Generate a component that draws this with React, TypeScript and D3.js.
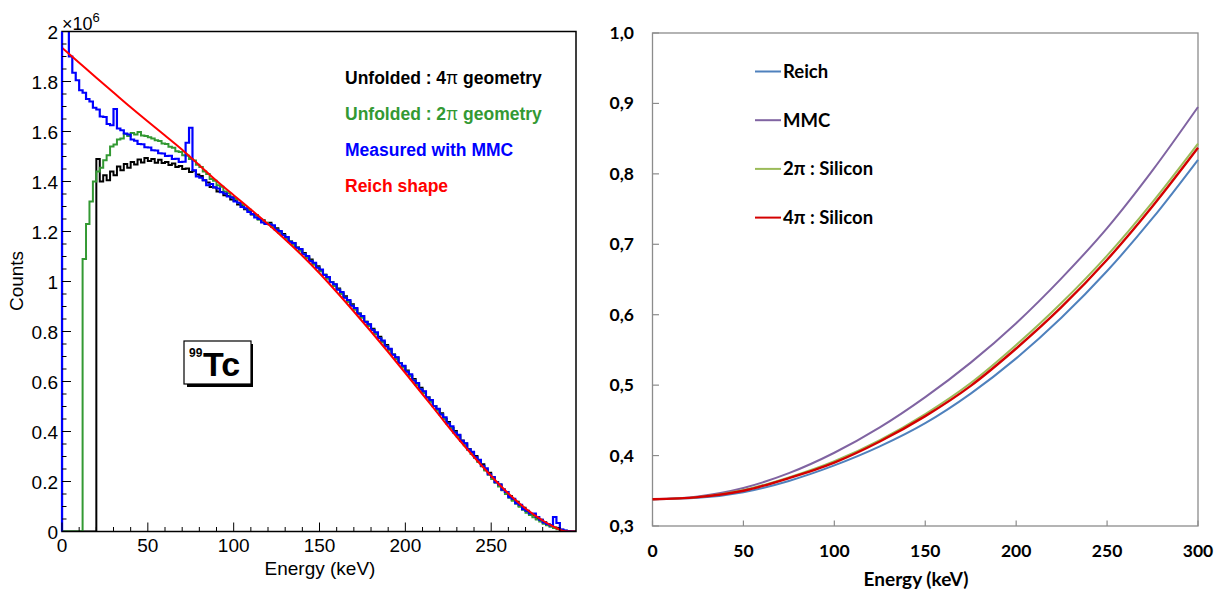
import React from "react";
import * as d3 from "d3";

// ---------- Left panel data (histograms, 2 keV bins from 0 keV) ----------
const BIN_WIDTH = 2;

const blackCounts = [
  0, 0, 0, 0, 0, 0, 0, 0, 0, 0,
  1.49, 1.40, 1.425, 1.405, 1.44, 1.425, 1.46, 1.445, 1.47, 1.455,
  1.478, 1.468, 1.488, 1.476, 1.494, 1.482, 1.49, 1.475, 1.487, 1.474,
  1.478, 1.466, 1.472, 1.458, 1.462, 1.45, 1.452, 1.438, 1.443, 1.428,
  1.422, 1.405, 1.396, 1.378, 1.376, 1.36, 1.358, 1.345, 1.342, 1.328,
  1.322, 1.308, 1.306, 1.289, 1.285, 1.268, 1.265, 1.249, 1.245, 1.232,
  1.235, 1.219, 1.213, 1.197, 1.19,
  1.177, 1.16, 1.153, 1.136, 1.129,
  1.114, 1.096, 1.088, 1.069, 1.061,
  1.046, 1.027, 1.017, 0.998, 0.988,
  0.972, 0.952, 0.941, 0.92, 0.909,
  0.892, 0.872, 0.861, 0.839, 0.828,
  0.811, 0.791, 0.779, 0.758, 0.746,
  0.729, 0.708, 0.696, 0.674, 0.662,
  0.644, 0.623, 0.61, 0.588, 0.575,
  0.559, 0.537, 0.525, 0.502, 0.49,
  0.473, 0.451, 0.438, 0.415, 0.402,
  0.385, 0.364, 0.352, 0.33, 0.318,
  0.302, 0.281, 0.269, 0.247, 0.235,
  0.217, 0.198, 0.188, 0.168, 0.158,
  0.142, 0.126, 0.119, 0.102, 0.095,
  0.082, 0.069, 0.065, 0.051, 0.047,
  0.037, 0.027, 0.025, 0.016, 0.014,
  0.007, 0.003, 0.001, 0, 0,
];

const greenCounts = [
  0, 0, 0, 0, 0, 0, 1.09, 1.23, 1.32, 1.40,
  1.44, 1.455, 1.485, 1.505, 1.54, 1.548, 1.568, 1.572, 1.59, 1.582,
  1.594, 1.588, 1.598, 1.584, 1.582, 1.577, 1.572, 1.565, 1.562, 1.552,
  1.55, 1.539, 1.535, 1.521, 1.518, 1.505, 1.503, 1.49, 1.484, 1.467,
  1.458, 1.44, 1.43, 1.41, 1.403, 1.385, 1.379, 1.36, 1.353, 1.338,
  1.33, 1.314, 1.308, 1.293, 1.287, 1.27, 1.265, 1.248, 1.244, 1.234,
  1.23, 1.218, 1.208, 1.196, 1.186,
  1.171, 1.16, 1.147, 1.136, 1.123,
  1.11, 1.095, 1.083, 1.068, 1.056,
  1.041, 1.027, 1.011, 0.998, 0.982,
  0.968, 0.951, 0.936, 0.919, 0.904,
  0.887, 0.872, 0.855, 0.839, 0.822,
  0.807, 0.79, 0.774, 0.757, 0.741,
  0.724, 0.708, 0.69, 0.674, 0.656,
  0.64, 0.622, 0.605, 0.587, 0.57,
  0.554, 0.537, 0.519, 0.502, 0.484,
  0.468, 0.45, 0.432, 0.414, 0.396,
  0.379, 0.362, 0.345, 0.327, 0.31,
  0.295, 0.278, 0.261, 0.244, 0.227,
  0.21, 0.195, 0.18, 0.165, 0.15,
  0.135, 0.123, 0.111, 0.099, 0.087,
  0.075, 0.066, 0.057, 0.048, 0.04,
  0.031, 0.025, 0.019, 0.014, 0.009,
  0.004, 0.002, 0.001, 0, 0,
];

const blueCounts = [
  2.5, 2.2, 1.9, 1.835, 1.805, 1.765, 1.755, 1.73, 1.72, 1.695,
  1.688, 1.66, 1.658, 1.63, 1.625, 1.69, 1.612, 1.605, 1.592, 1.588,
  1.568, 1.563, 1.55, 1.549, 1.537, 1.536, 1.525, 1.524, 1.513, 1.512,
  1.502, 1.503, 1.49, 1.491, 1.478, 1.479, 1.555, 1.615, 1.445, 1.42,
  1.415, 1.405, 1.385, 1.39, 1.377, 1.372, 1.357, 1.352, 1.34, 1.336,
  1.32, 1.315, 1.298, 1.293, 1.278, 1.27, 1.256, 1.25, 1.236, 1.23,
  1.229, 1.225, 1.207, 1.202, 1.185,
  1.178, 1.159, 1.154, 1.135, 1.13,
  1.109, 1.102, 1.082, 1.075, 1.055,
  1.048, 1.026, 1.018, 0.997, 0.989,
  0.967, 0.958, 0.935, 0.926, 0.903,
  0.894, 0.871, 0.862, 0.838, 0.829,
  0.806, 0.797, 0.773, 0.764, 0.74,
  0.731, 0.707, 0.697, 0.673, 0.663,
  0.639, 0.629, 0.604, 0.594, 0.569,
  0.561, 0.536, 0.526, 0.501, 0.491,
  0.468, 0.457, 0.432, 0.421, 0.396,
  0.387, 0.363, 0.353, 0.329, 0.319,
  0.297, 0.287, 0.263, 0.253, 0.229,
  0.218, 0.197, 0.188, 0.167, 0.158,
  0.137, 0.131, 0.113, 0.107, 0.089,
  0.083, 0.072, 0.072, 0.058, 0.047,
  0.036, 0.03, 0.024, 0.058, 0.034,
  0.008, 0.004, 0.001, 0, 0,
];

// Reich shape (smooth curve)
const reichEnergy = [0, 10, 20, 30, 40, 50, 60, 70, 80, 90, 100, 110, 120, 130, 140, 150, 160, 170, 180, 190, 200, 210, 220, 230, 240, 250, 260, 270, 280, 288, 293, 300];
const reichCounts = [1.935, 1.875, 1.815, 1.756, 1.697, 1.64, 1.584, 1.527, 1.465, 1.403, 1.345, 1.288, 1.23, 1.168, 1.103, 1.033, 0.958, 0.88, 0.8, 0.718, 0.634, 0.549, 0.463, 0.378, 0.298, 0.222, 0.152, 0.092, 0.044, 0.014, 0.001, 0];

const leftXTicks = [0, 50, 100, 150, 200, 250];
const leftYTicks = [0, 0.2, 0.4, 0.6, 0.8, 1, 1.2, 1.4, 1.6, 1.8, 2];
const leftLegendLabels = ["Unfolded : 4", "Unfolded : 2", "Measured with MMC", "Reich shape"];
const leftLegendSuffix = [" geometry", " geometry", "", ""];
const leftLegendPi = [true, true, false, false];
const leftLegendColors = ["#000000", "#339933", "#0000ff", "#ff0000"];

// ---------- Right panel data ----------
const rightEnergy = [0, 25, 50, 75, 100, 125, 150, 175, 200, 225, 250, 275, 300];
const rightReich = [0.338, 0.34, 0.348, 0.364, 0.386, 0.413, 0.446, 0.488, 0.538, 0.596, 0.662, 0.737, 0.82];
const rightMMC = [0.338, 0.342, 0.354, 0.375, 0.404, 0.44, 0.483, 0.532, 0.588, 0.652, 0.723, 0.805, 0.895];
const rightSi2pi = [0.338, 0.341, 0.351, 0.369, 0.392, 0.422, 0.459, 0.503, 0.557, 0.617, 0.684, 0.76, 0.843];
const rightSi4pi = [0.338, 0.341, 0.35, 0.368, 0.39, 0.42, 0.456, 0.499, 0.552, 0.611, 0.678, 0.754, 0.837];
const rightSeriesNames = ["Reich", "MMC", "2π : Silicon", "4π : Silicon"];
const rightSeriesColors = ["#4f81bd", "#8064a2", "#9bbb59", "#d40000"];
const rightXTicks = [0, 50, 100, 150, 200, 250, 300];
const rightYTicks = [0.3, 0.4, 0.5, 0.6, 0.7, 0.8, 0.9, 1.0];

function histPoints(vals: number[]): [number, number][] {
  const pts: [number, number][] = [[0, 0]];
  vals.forEach((v, i) => {
    pts.push([i * BIN_WIDTH, v]);
    pts.push([(i + 1) * BIN_WIDTH, v]);
  });
  pts.push([vals.length * BIN_WIDTH, 0]);
  return pts;
}

export default function App() {
  // Left scales
  const xL = d3.scaleLinear().domain([0, 299.4]).range([62, 576]);
  const yL = d3.scaleLinear().domain([0, 2]).range([531.5, 31.5]);
  const histLine = d3
    .line<[number, number]>()
    .x((d) => xL(d[0]))
    .y((d) => yL(d[1]));
  const reichLine = d3
    .line<number>()
    .x((_, i) => xL(reichEnergy[i]))
    .y((d) => yL(d))
    .curve(d3.curveMonotoneX);

  const xMinor = d3.range(0, 300, 10).filter((v) => v % 50 !== 0);
  const yMinor = d3.range(0, 2.0001, 0.05).filter((v) => Math.abs(v * 5 - Math.round(v * 5)) > 1e-6);

  // Right scales
  const xR = d3.scaleLinear().domain([0, 300]).range([652.5, 1198]);
  const yR = d3.scaleLinear().domain([0.3, 1.0]).range([526, 33]);
  const rLine = d3
    .line<number>()
    .x((_, i) => xR(rightEnergy[i]))
    .y((d) => yR(d))
    .curve(d3.curveMonotoneX);
  const rightSeries = [rightReich, rightMMC, rightSi2pi, rightSi4pi];

  const fL = "'Liberation Sans', Arial, Helvetica, sans-serif";
  const fR = "Lato, 'Open Sans', sans-serif";

  return (
    <svg
      width={1219}
      height={592}
      style={{ position: "absolute", left: 0, top: 0, background: "#fff" }}
    >
      <rect x={0} y={0} width={1219} height={592} fill="#fff" />
      <defs>
        <clipPath id="clipL">
          <rect x={62} y={31.5} width={514} height={500} />
        </clipPath>
      </defs>

      {/* ---------------- LEFT PANEL ---------------- */}
      <g clipPath="url(#clipL)" fill="none" strokeLinejoin="miter">
        <path d={histLine(histPoints(blackCounts)) || ""} stroke="#000" strokeWidth={2} />
        <path d={histLine(histPoints(greenCounts)) || ""} stroke="#339933" strokeWidth={2} />
        <path d={histLine(histPoints(blueCounts)) || ""} stroke="#0000ff" strokeWidth={2.2} />
        <path d={reichLine(reichCounts) || ""} stroke="#ff0000" strokeWidth={2} />
      </g>
      {/* frame */}
      <rect x={62} y={31.5} width={514} height={500} fill="none" stroke="#000" strokeWidth={1.5} />
      <line x1={62} x2={62} y1={31.5} y2={531.5} stroke="#0000ff" strokeWidth={2.2} />
      {/* x ticks */}
      {leftXTicks.map((t) => (
        <line key={"xM" + t} x1={xL(t)} x2={xL(t)} y1={531.5} y2={522.5} stroke="#000" strokeWidth={1} />
      ))}
      {xMinor.map((t) => (
        <line key={"xm" + t} x1={xL(t)} x2={xL(t)} y1={531.5} y2={527} stroke="#000" strokeWidth={1} />
      ))}
      {leftXTicks.map((t) => (
        <text key={"xl" + t} x={xL(t)} y={552} textAnchor="middle" fontFamily={fL} fontSize={19} fill="#000">
          {t}
        </text>
      ))}
      {/* y ticks */}
      {leftYTicks.map((t) => (
        <line key={"yM" + t} x1={62} x2={71} y1={yL(t)} y2={yL(t)} stroke="#000" strokeWidth={1} />
      ))}
      {yMinor.map((t) => (
        <line key={"ym" + t} x1={62} x2={66.5} y1={yL(t)} y2={yL(t)} stroke="#000" strokeWidth={1} />
      ))}
      {leftYTicks.map((t) => (
        <text key={"yl" + t} x={58} y={yL(t) + 7} textAnchor="end" fontFamily={fL} fontSize={19} fill="#000">
          {d3.format("~g")(t)}
        </text>
      ))}
      <text x={62} y={30} fontFamily={fL} fontSize={18} fill="#000">
        ×10
        <tspan dy={-8} fontSize={13}>6</tspan>
      </text>
      <text x={320} y={575} textAnchor="middle" fontFamily={fL} fontSize={19} fill="#000">
        Energy (keV)
      </text>
      <text transform="translate(23,281) rotate(-90)" textAnchor="middle" fontFamily={fL} fontSize={19} fill="#000">
        Counts
      </text>
      {/* legend */}
      {leftLegendLabels.map((lab, i) => (
        <text
          key={"lg" + i}
          x={345}
          y={84 + i * 36}
          fontFamily={fL}
          fontWeight="bold"
          fontSize={17.5}
          fill={leftLegendColors[i]}
        >
          {lab}
          {leftLegendPi[i] ? <tspan fontWeight="normal">π</tspan> : null}
          {leftLegendSuffix[i]}
        </text>
      ))}
      {/* 99Tc box */}
      <rect x={187} y={344} width={66} height={43} fill="#000" />
      <rect x={184} y={341} width={67} height={43} fill="#fff" stroke="#000" strokeWidth={1.2} />
      <text x={189} y={357} fontFamily={fL} fontWeight="bold" fontSize={12} fill="#000">
        99
      </text>
      <text x={203} y={376} fontFamily={fL} fontWeight="bold" fontSize={34} fill="#000">
        Tc
      </text>

      {/* ---------------- RIGHT PANEL ---------------- */}
      <rect x={652.5} y={33} width={545.5} height={493} fill="none" stroke="#8c8c8c" strokeWidth={1.3} />
      {rightYTicks.map((t) => (
        <line key={"ryt" + t} x1={652.5} x2={659} y1={yR(t)} y2={yR(t)} stroke="#8c8c8c" strokeWidth={1.2} />
      ))}
      {rightXTicks.map((t) => (
        <line key={"rxt" + t} x1={xR(t)} x2={xR(t)} y1={526} y2={520.5} stroke="#8c8c8c" strokeWidth={1.2} />
      ))}
      {rightYTicks.map((t) => (
        <text key={"ryl" + t} x={634} y={yR(t) + 6} textAnchor="end" fontFamily={fR} fontWeight="bold" fontSize={17.5} fill="#000">
          {t.toFixed(1).replace(".", ",")}
        </text>
      ))}
      {rightXTicks.map((t) => (
        <text key={"rxl" + t} x={xR(t)} y={557} textAnchor="middle" fontFamily={fR} fontWeight="bold" fontSize={17.5} fill="#000">
          {t}
        </text>
      ))}
      <text x={916} y={586} textAnchor="middle" fontFamily={fR} fontWeight="bold" fontSize={19} fill="#000">
        Energy (keV)
      </text>
      <g fill="none">
        {rightSeries.map((s, i) => (
          <path key={"rs" + i} d={rLine(s) || ""} stroke={rightSeriesColors[i]} strokeWidth={i === 3 ? 2.4 : 2} />
        ))}
      </g>
      {rightSeriesNames.map((n, i) => (
        <g key={"rl" + i}>
          <line x1={755} x2={781} y1={71.5 + i * 48.7} y2={71.5 + i * 48.7} stroke={rightSeriesColors[i]} strokeWidth={2} />
          <text x={783} y={78 + i * 48.7} fontFamily={fR} fontWeight="bold" fontSize={18.5} fill="#000">
            {n}
          </text>
        </g>
      ))}
    </svg>
  );
}
